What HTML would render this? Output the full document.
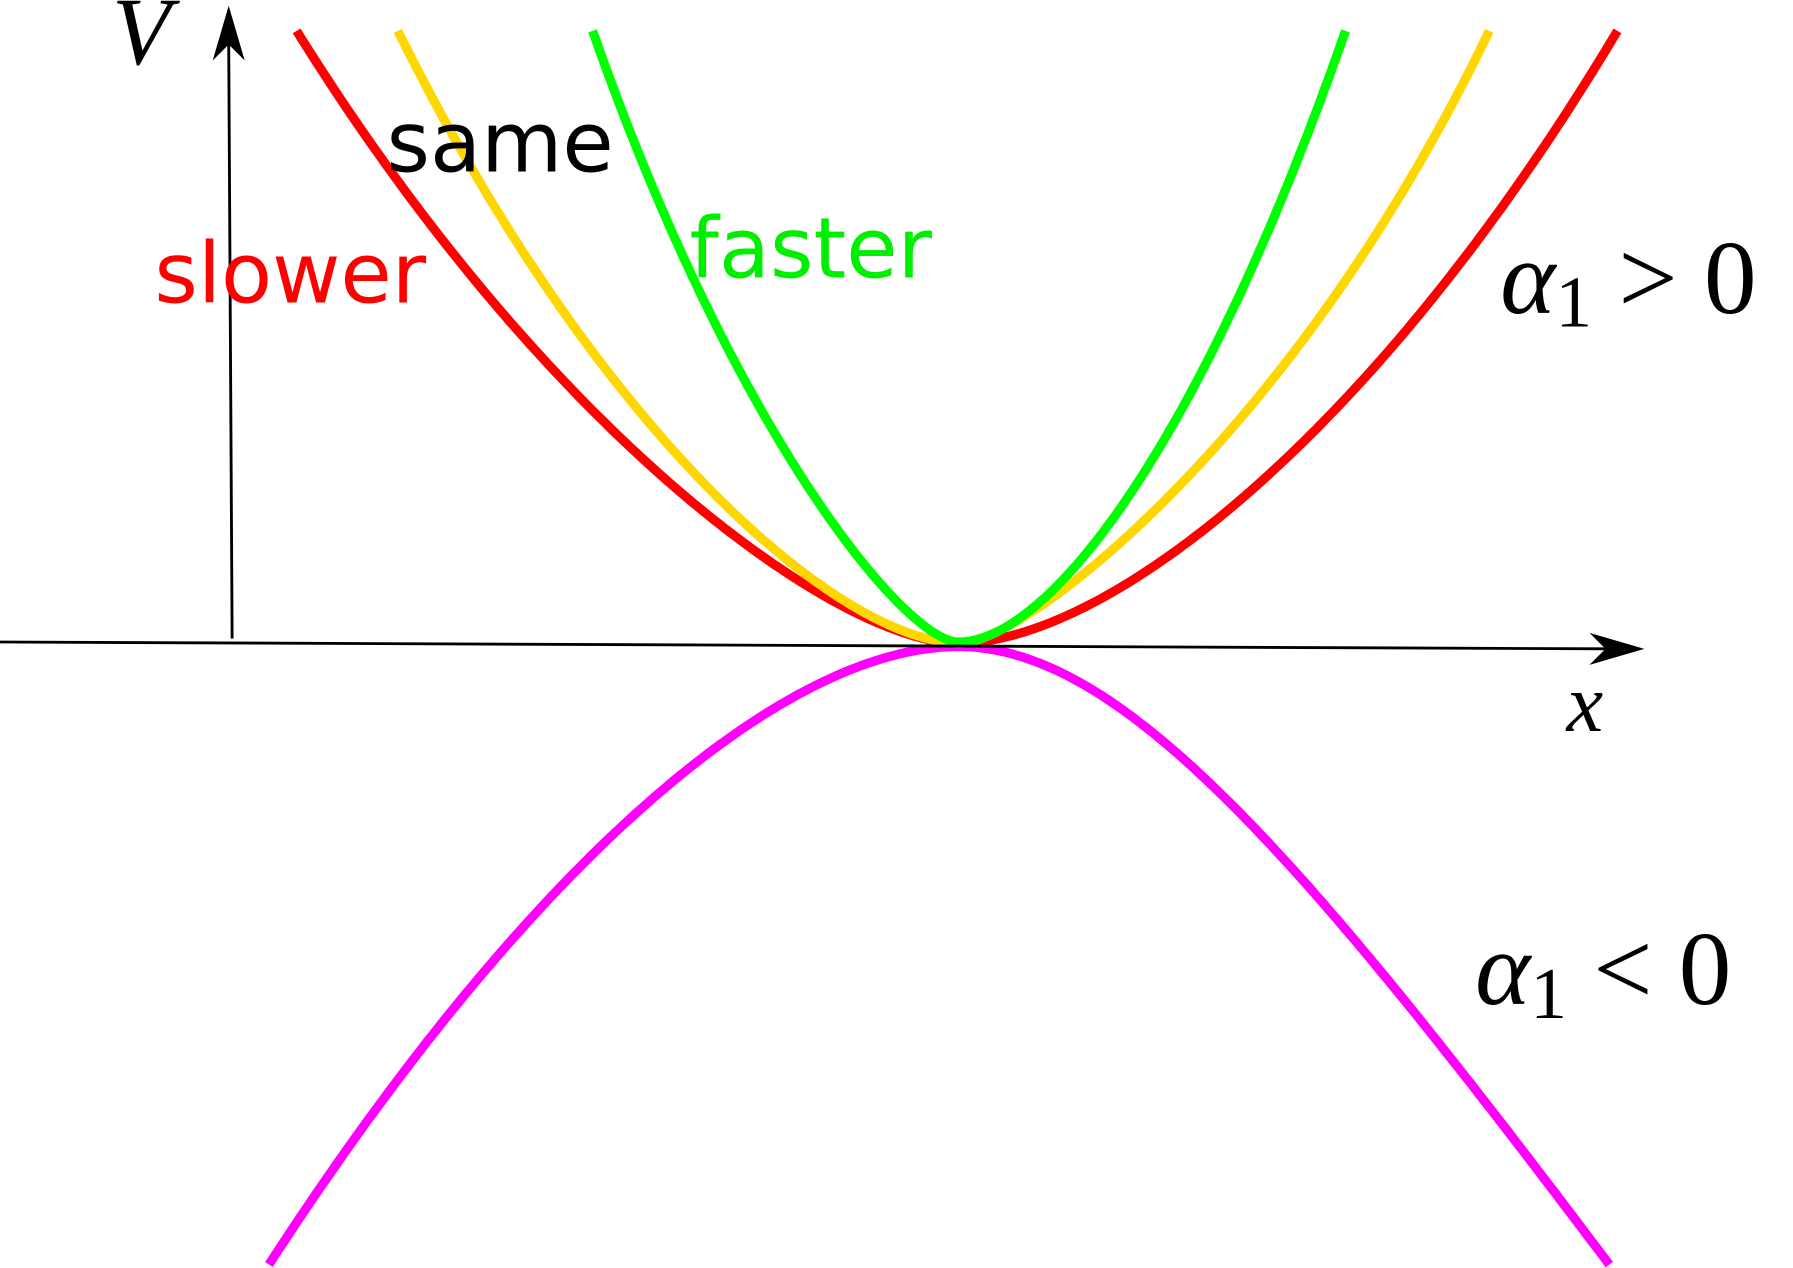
<!DOCTYPE html>
<html><head><meta charset="utf-8"><style>
html,body{margin:0;padding:0;background:#fff;overflow:hidden}
svg{display:block}
</style></head><body>
<svg id="chart" width="1793" height="1268" viewBox="0 0 1568 1110" preserveAspectRatio="none" xmlns="http://www.w3.org/2000/svg">
<g id="curves"></g>
<g>
<line x1="0" y1="562" x2="1405" y2="568" stroke="#000" stroke-width="2.5"/>
<path d="M1438,568 L1390,554 L1404,568 L1390,582 Z" fill="#000"/>
<line x1="203" y1="559" x2="200" y2="38" stroke="#000" stroke-width="2.5"/>
<path d="M200,5 L186,53 L200,39 L214,53 Z" fill="#000"/>
</g>
<text x="98" y="56" font-family="Liberation Serif, serif" font-style="italic" font-size="84">V</text>
<text x="1370" y="640" font-family="Liberation Serif, serif" font-style="italic" font-size="72">x</text>
<text x="135" y="265" fill="#ff0000" font-family="DejaVu Sans, sans-serif" font-size="73">slower</text>
<text x="338" y="150" fill="#000" font-family="DejaVu Sans, sans-serif" font-size="73">same</text>
<text x="603" y="243" fill="#00ee00" font-family="DejaVu Sans, sans-serif" font-size="73">faster</text>
<text x="1312" y="274" font-family="Liberation Serif, serif" font-size="92"><tspan font-style="italic">α</tspan><tspan font-size="64" dy="12">1</tspan><tspan dy="-12"> &gt; 0</tspan></text>
<text x="1290" y="879" font-family="Liberation Serif, serif" font-size="92"><tspan font-style="italic">α</tspan><tspan font-size="64" dy="12">1</tspan><tspan dy="-12"> &lt; 0</tspan></text>
</svg>
<script>
// data: x offset from minimum, V height above axis
const redX = [-576,-494,-368,-242,-117,-40,0,40,83,195,306,418,507,576];
const redV = [536,404,252,138,39,6,0,5,16,89,183,297,430,536];
const yellowX = [-486,-444,-368,-285,-201,-118,-34,2,40,83,172,261,350,418,464];
const yellowV = [536,438,320,214,123,47,5,0,9,43,119,214,328,449,536];
const greenX = [-319,-284,-222,-159,-97,-42,0,30,61,127,199,261,306,335];
const greenV = [536,438,297,183,89,24,1,6,24,108,214,328,438,536];
const magentaX = [-596,-526,-424,-307,-151,-73,0,60,122,239,357,474,567];
const magentaV = [-544,-414,-295,-186,-49,-14,-3,-11,-45,-146,-270,-414,-544];
const xS = v => 838 + v;
const yS = v => 563 - v;
function solve(A, b){
  const m = b.length;
  const M = A.map((r,i)=>r.concat([b[i]]));
  for(let i=0;i<m;i++){
    let p=i; for(let r=i+1;r<m;r++) if(Math.abs(M[r][i])>Math.abs(M[p][i])) p=r;
    [M[i],M[p]]=[M[p],M[i]];
    for(let r=0;r<m;r++){ if(r===i) continue; const f=M[r][i]/M[i][i]; for(let c=i;c<=m;c++) M[r][c]-=f*M[i][c]; }
  }
  return M.map((r,i)=>r[m]/r[i]);
}
// fit |dx| = a1 u + a2 u^2 + a3 u^3, u = sqrt(|V - V0|)/S
function fitSide(pts){
  const S = 24;
  const A = [[0,0,0],[0,0,0],[0,0,0]], b = [0,0,0];
  pts.forEach(([dx,dv]) => {
    const u = Math.sqrt(dv)/S, bs = [u,u*u,u*u*u];
    for(let i=0;i<3;i++){ for(let j=0;j<3;j++) A[i][j]+=bs[i]*bs[j]; b[i]+=bs[i]*dx; }
  });
  const c = solve(A,b);
  return dv => { const u = Math.sqrt(Math.max(0,dv))/S; return c[0]*u + c[1]*u*u + c[2]*u*u*u; };
}
function pathFrom(xs, vs){
  let k = 0; xs.forEach((x,i)=>{ if(Math.abs(x)<Math.abs(xs[k])) k=i; });
  const x0 = xs[k], v0 = vs[k];
  const sgn = Math.sign(vs[0]-v0) || 1;
  const left = [], right = [];
  xs.forEach((x,i)=>{
    if(i===k) return;
    const p = [Math.abs(x-x0), Math.abs(vs[i]-v0)];
    (x < x0 ? left : right).push(p);
  });
  const fl = fitSide(left), fr = fitSide(right);
  const dL = Math.abs(vs[0]-v0), dR = Math.abs(vs[vs.length-1]-v0);
  const pts = [];
  const N = 120;
  for(let i=N;i>=0;i--){ const dv = dL*Math.pow(i/N,2); pts.push([x0-fl(dv), v0+sgn*dv]); }
  for(let i=1;i<=N;i++){ const dv = dR*Math.pow(i/N,2); pts.push([x0+fr(dv), v0+sgn*dv]); }
  return pts.map((p,i)=>(i?'L':'M')+xS(p[0]).toFixed(1)+','+yS(p[1]).toFixed(1)).join(' ');
}
const g = document.getElementById('curves');
function add(xs, vs, color, name){
  const el = document.createElementNS('http://www.w3.org/2000/svg','path');
  el.setAttribute('d', pathFrom(xs, vs));
  el.setAttribute('fill','none');
  el.setAttribute('stroke', color);
  el.setAttribute('stroke-width','8');
  el.setAttribute('stroke-linejoin','round');
  
  
  g.appendChild(el);
}
add(magentaX, magentaV, '#ff00ff', 'curve-alpha-negative');
add(redX, redV, '#ff0000', 'curve-slower');
add(yellowX, yellowV, '#ffd700', 'curve-same');
add(greenX, greenV, '#00ff00', 'curve-faster');
</script>
</body></html>
